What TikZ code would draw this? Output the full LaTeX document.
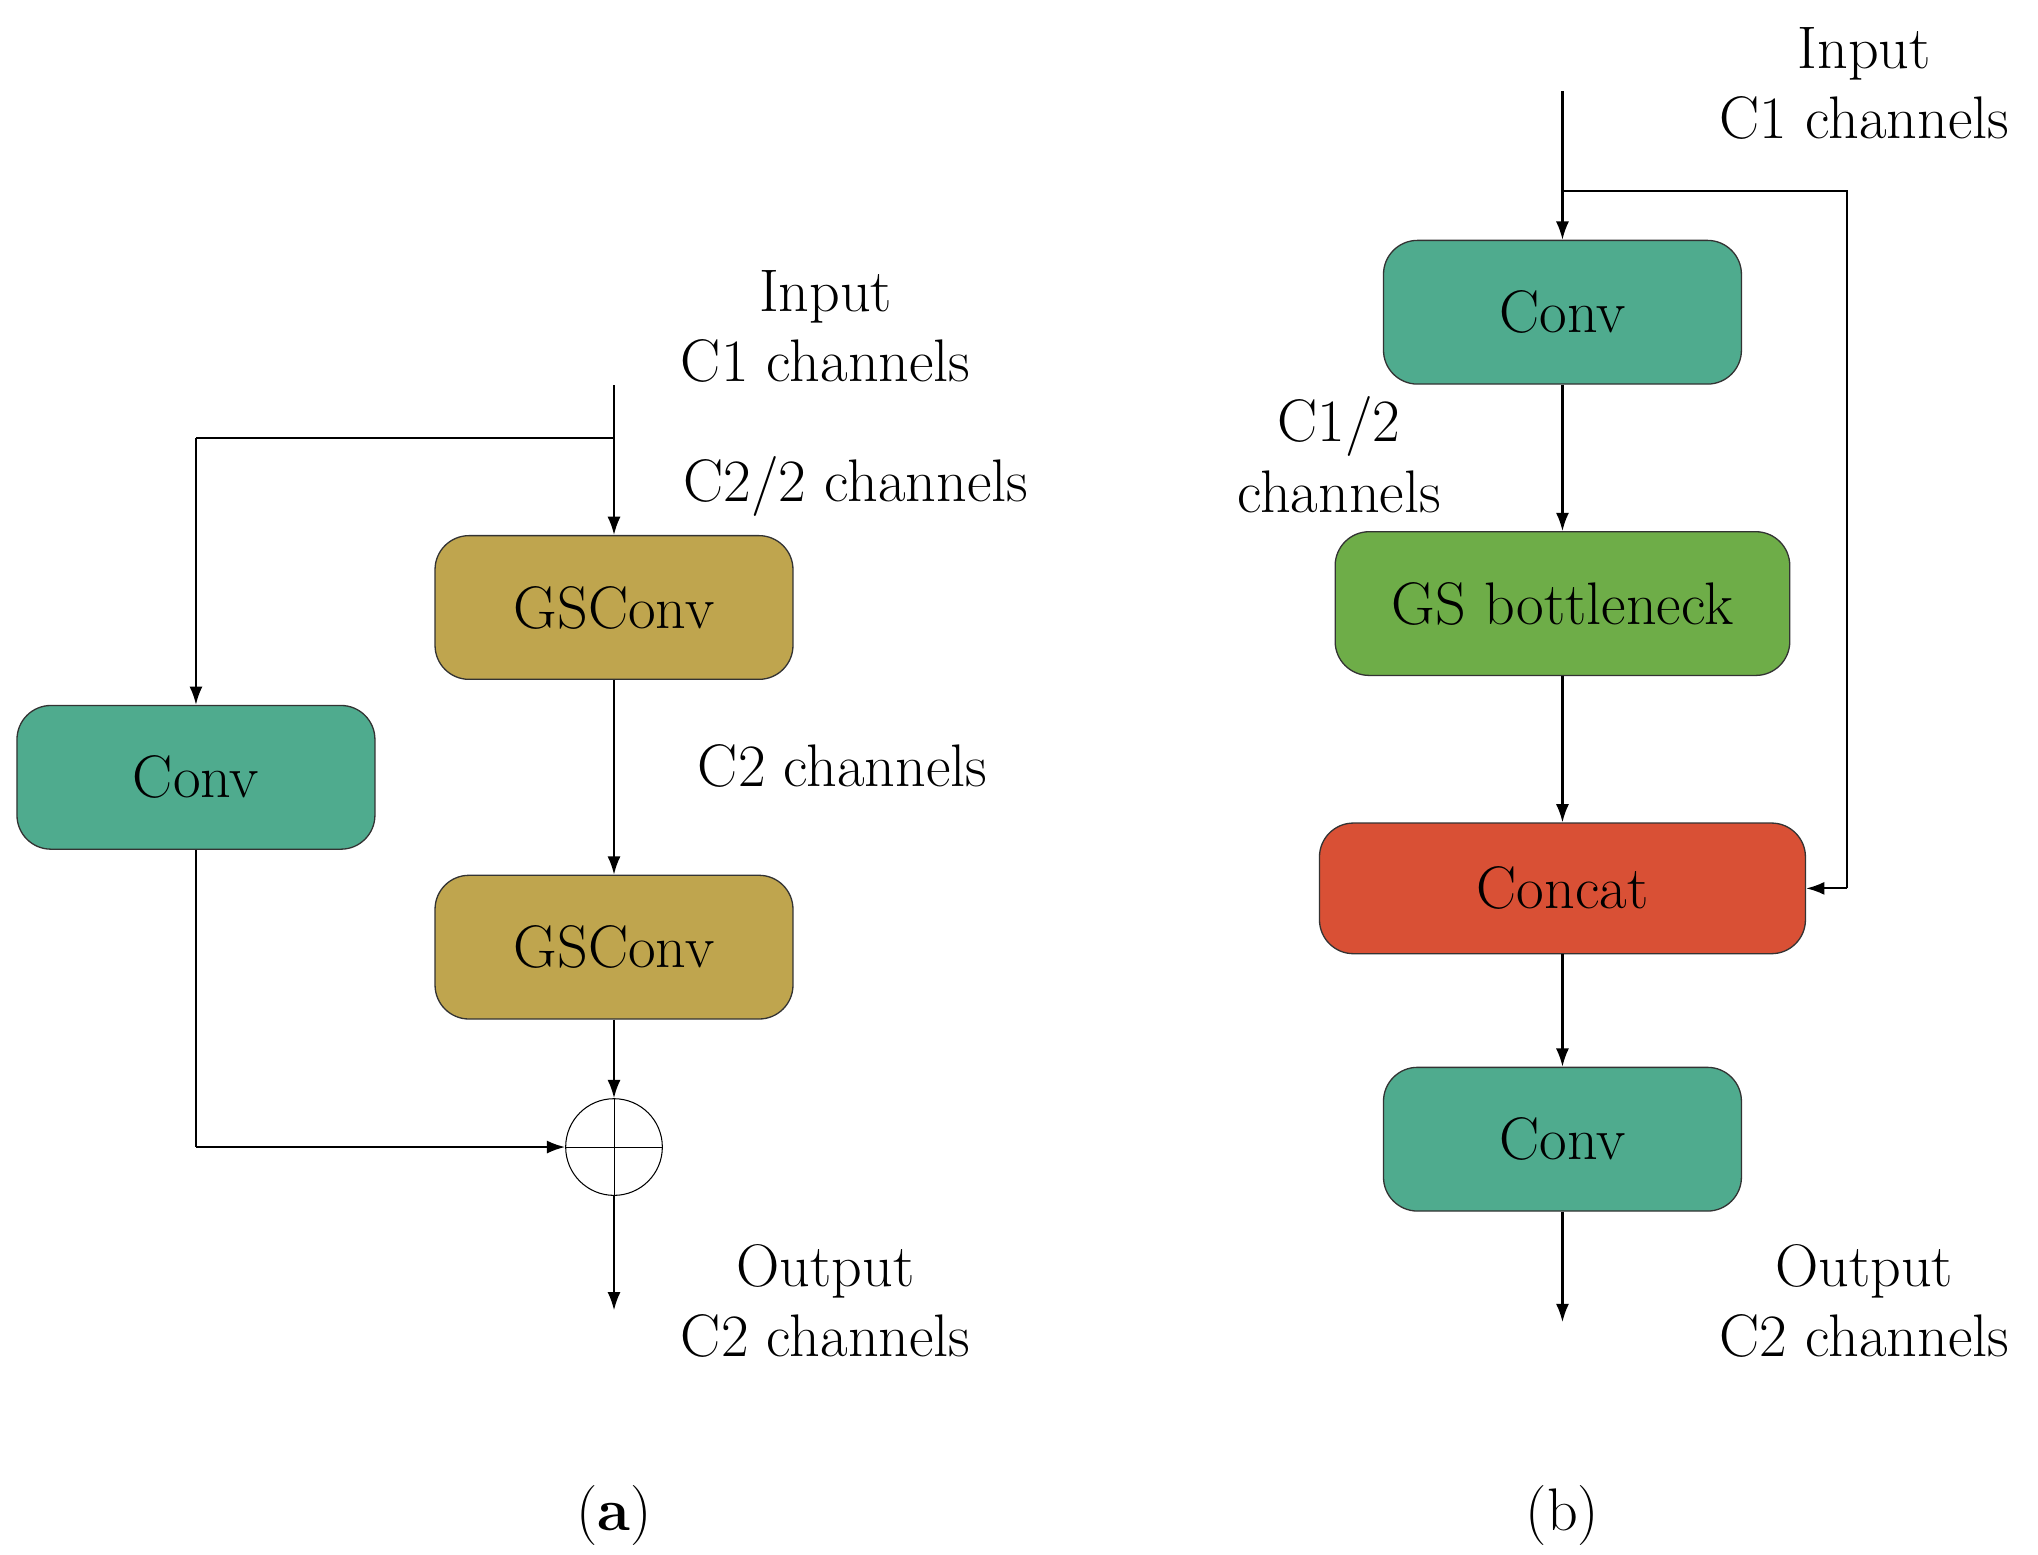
\documentclass[tikz,border=0pt]{standalone}
\usetikzlibrary{arrows.meta}
\begin{document}
\begin{tikzpicture}[x=0.5pt,y=-0.5pt,
 blk/.style={draw=black!80,line width=0.5pt,rounded corners=13pt,minimum width=137pt,minimum height=55pt,font=\fontsize{23}{26}\selectfont},
 lab/.style={font=\fontsize{23}{27}\selectfont,align=center},
 arr/.style={-{Latex[length=7pt,width=5pt]},line width=0.8pt},
 ln/.style={line width=0.8pt}]
\useasboundingbox (0,0) rectangle (1560,1190);
\definecolor{cteal}{HTML}{4FAB8E}
\definecolor{cgold}{HTML}{BFA54E}
\definecolor{cgreen}{HTML}{6EAD48}
\definecolor{cred}{HTML}{D95035}
% (a)
\node[lab] (ina) at (632,250) {Input\\C1 channels};
\coordinate (sa) at (470,295);
\coordinate (ba) at (470,335);
\coordinate (bl) at (150,335);
\node[blk,fill=cgold] (g1) at (470,465) {GSConv};
\node[blk,fill=cgold] (g2) at (470,725) {GSConv};
\node[blk,fill=cteal] (ca) at (150,595) {Conv};
\node[draw,circle,minimum size=37pt,inner sep=0pt,line width=0.4pt] (sum) at (470,878) {};
\draw[line width=0.3pt] (sum.north)--(sum.south) (sum.west)--(sum.east);
\node[lab] at (655,372) {C2/2 channels};
\node[lab] at (645,586) {C2 channels};
\draw[arr] (sa)--(g1.north);
\draw[ln] (ba)--(bl);
\draw[arr] (bl)--(ca.north);
\draw[arr] (g1.south)--(g2.north);
\draw[arr] (g2.south)--(sum.north);
\coordinate (cc) at (150,878);
\draw[ln] (ca.south)--(cc);
\draw[arr] (cc)--(sum.west);
\coordinate (oa) at (470,1003);
\draw[arr] (sum.south)--(oa);
\node[lab] at (632,996) {Output\\C2 channels};
\node[lab] at (470,1160) {(\textbf{a})};
% (b)
\node[lab] (inb) at (1427,64) {Input\\C1 channels};
\coordinate (sb) at (1196,70);
\coordinate (bb) at (1196,146);
\coordinate (br) at (1414,146);
\coordinate (br2) at (1414,680);
\node[blk,fill=cteal] (c1) at (1196,239) {Conv};
\node[blk,fill=cgreen,minimum width=174pt] (gs) at (1196,462) {GS bottleneck};
\node[blk,fill=cred,minimum width=186pt,minimum height=50pt] (cat) at (1196,680) {Concat};
\node[blk,fill=cteal] (c2) at (1196,872) {Conv};
\node[lab] at (1025,348) {C1/2\\channels};
\draw[arr] (sb)--(c1.north);
\draw[ln] (bb)--(br)--(br2);
\draw[arr] (br2)--(cat.east);
\draw[arr] (c1.south)--(gs.north);
\draw[arr] (gs.south)--(cat.north);
\draw[arr] (cat.south)--(c2.north);
\coordinate (ob) at (1196,1012);
\draw[arr] (c2.south)--(ob);
\node[lab] at (1427,996) {Output\\C2 channels};
\node[lab] at (1196,1160) {(b)};
\end{tikzpicture}
\end{document}
